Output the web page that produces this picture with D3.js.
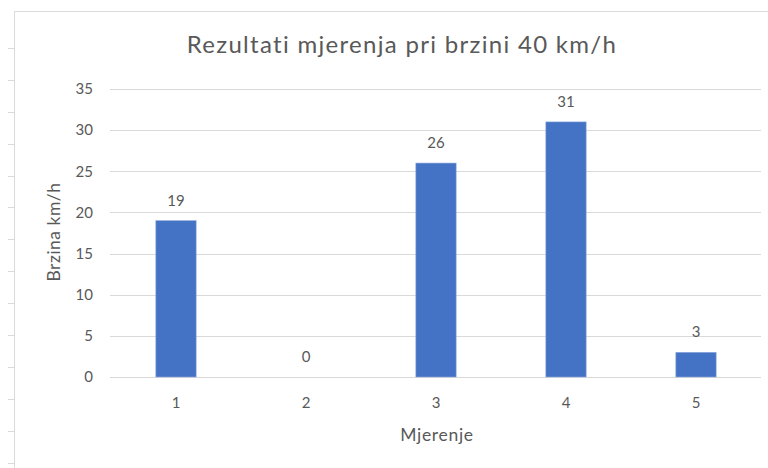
<!DOCTYPE html>
<html>
<head>
<meta charset="utf-8">
<script src="https://cdn.jsdelivr.net/npm/d3@7"></script>
<style>
  body { margin: 0; background: #fff; }
  text { font-family: Lato, "Open Sans", sans-serif; fill: #595959; }
</style>
</head>
<body>
<svg id="chart"></svg>
<script>
// Data
var categories = ["1", "2", "3", "4", "5"];
var values = [19, 0, 26, 31, 3];
var yTicks = [0, 5, 10, 15, 20, 25, 30, 35];

var titleText = "Rezultati mjerenja pri brzini 40 km/h";
var xTitle = "Mjerenje";
var yTitle = "Brzina km/h";

function main() {
    const W = 768, H = 468;
    const margin = { top: 89, right: 7, bottom: 91, left: 111 };
    const width = W - margin.left - margin.right;
    const height = H - margin.top - margin.bottom;

    const svg = d3.select('#chart')
      .attr('width', W)
      .attr('height', H);

    // sheet edge: frame line and row ticks on the left
    svg.append('path')
      .attr('d', 'M14.5,' + H + 'V11.5H' + W)
      .attr('fill', 'none')
      .attr('stroke', '#d9d9d9')
      .attr('stroke-width', 1);
    svg.selectAll('.rowtick')
      .data(d3.range(14))
      .enter()
      .append('line')
      .attr('class', 'rowtick')
      .attr('x1', 8).attr('x2', 14)
      .attr('y1', d => Math.round(47.7 + d * 31.95) + 0.5)
      .attr('y2', d => Math.round(47.7 + d * 31.95) + 0.5)
      .attr('stroke', '#d9d9d9');

    const g = svg.append('g')
      .attr('transform', `translate(${margin.left}, ${margin.top})`);

    const xScale = d3.scaleBand()
      .domain(categories)
      .range([0, width])
      .paddingInner(0.69)
      .paddingOuter(0.345);

    const yScale = d3.scaleLinear()
      .domain([0, 35])
      .range([height, 0]);

    // gridlines
    g.selectAll('.grid')
      .data(yTicks)
      .enter()
      .append('line')
      .attr('class', 'grid')
      .attr('x1', -1)
      .attr('x2', width)
      .attr('y1', d => Math.round(yScale(d)) + 0.5)
      .attr('y2', d => Math.round(yScale(d)) + 0.5)
      .attr('stroke', '#d9d9d9')
      .attr('stroke-width', 1);

    // y axis labels
    const yAxis = d3.axisLeft(yScale).tickValues(yTicks).tickSize(0).tickPadding(18);
    g.append('g')
      .attr('class', 'y axis')
      .call(yAxis)
      .call(s => s.select('.domain').remove())
      .selectAll('text')
      .style('font-size', '15px')
      .attr('fill', '#595959');

    // x axis labels
    const xAxis = d3.axisBottom(xScale).tickSize(0).tickPadding(20);
    g.append('g')
      .attr('class', 'x axis')
      .attr('transform', `translate(0, ${height})`)
      .call(xAxis)
      .call(s => s.select('.domain').remove())
      .selectAll('text')
      .style('font-size', '15px')
      .attr('fill', '#595959');

    // bars
    g.selectAll('.bar')
      .data(values)
      .enter()
      .append('rect')
      .attr('class', 'bar')
      .attr('x', (d, i) => xScale(categories[i]))
      .attr('y', d => yScale(d))
      .attr('width', xScale.bandwidth())
      .attr('height', d => height - yScale(d))
      .attr('fill', '#4472c4')
      .attr('stroke', d => d > 0 ? '#8faadc' : 'none')
      .attr('stroke-width', 0.6);

    // value labels
    g.selectAll('.vlabel')
      .data(values)
      .enter()
      .append('text')
      .attr('class', 'vlabel')
      .attr('x', (d, i) => xScale(categories[i]) + xScale.bandwidth() / 2)
      .attr('y', d => yScale(d) - 15)
      .attr('text-anchor', 'middle')
      .style('font-size', '15px')
      .text(d => d);

    // title
    svg.append('text')
      .attr('x', 402)
      .attr('y', 53)
      .attr('text-anchor', 'middle')
      .style('font-size', '24px')
      .style('letter-spacing', '1.3px')
      .text(titleText);

    // axis titles
    svg.append('text')
      .attr('x', 437)
      .attr('y', 441)
      .attr('text-anchor', 'middle')
      .style('font-size', '17.5px')
      .style('letter-spacing', '0.7px')
      .text(xTitle);

    svg.append('text')
      .attr('transform', 'translate(60, 232) rotate(-90)')
      .attr('text-anchor', 'middle')
      .style('font-size', '17.5px')
      .style('letter-spacing', '0.5px')
      .text(yTitle);
}
main();
</script>
</body>
</html>
